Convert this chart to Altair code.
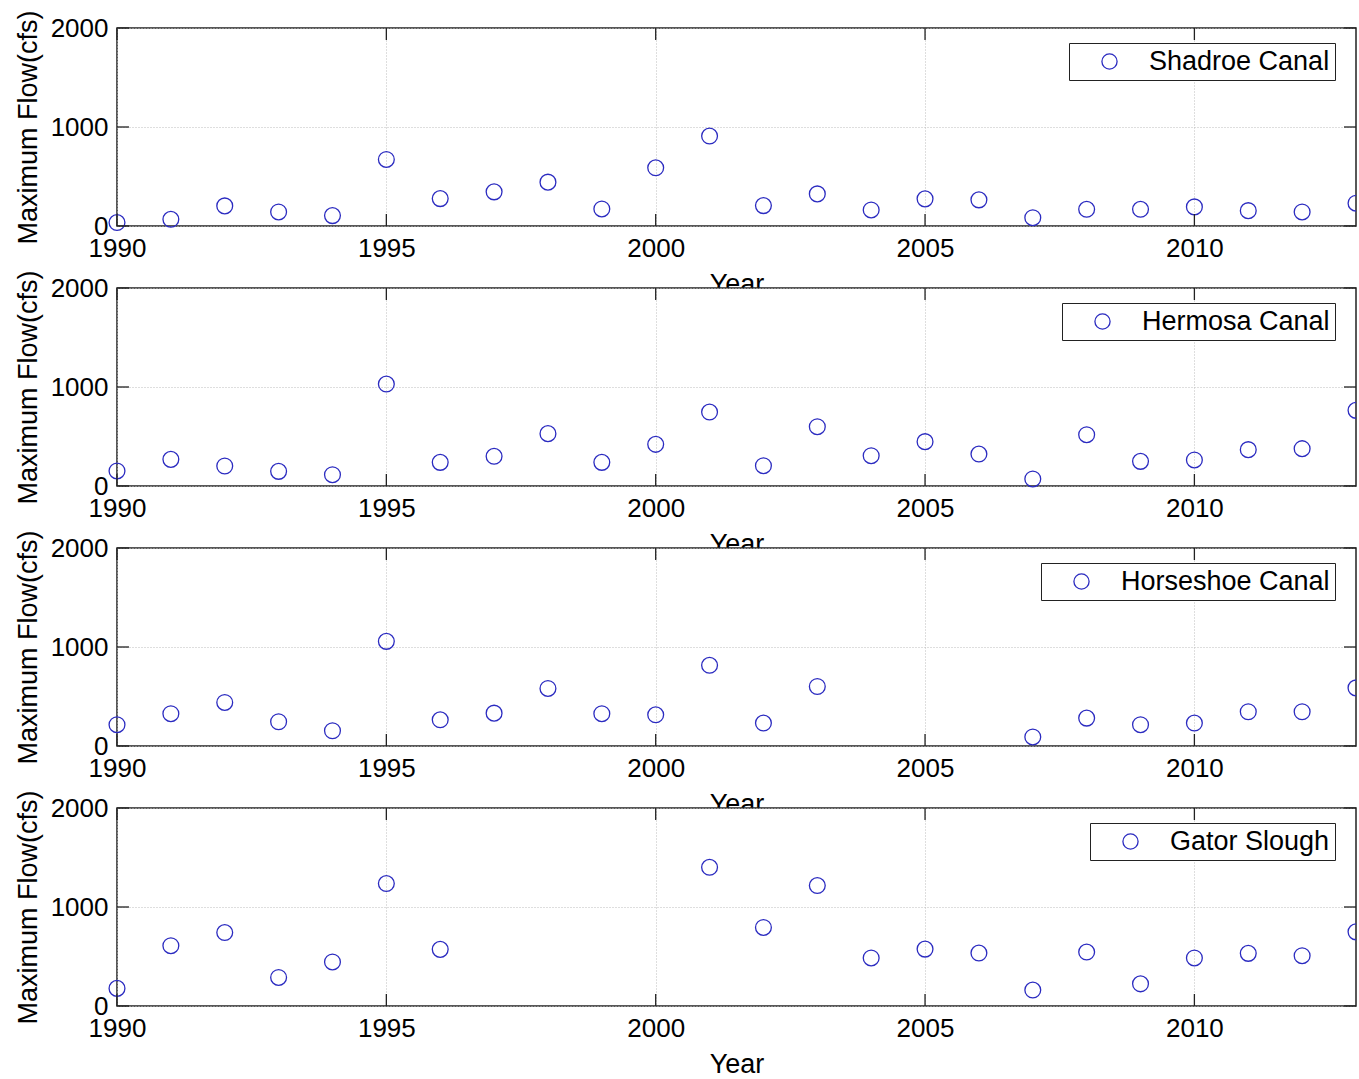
import altair as alt
import pandas as pd

# Annual maximum flow (cfs) at four sites, 1990-2013
years = list(range(1990, 2014))
shadroe = [35, 68, 203, 142, 105, 672, 277, 345, 443, 172, 588, 909,
           206, 324, 162, 274, 264, 84, 169, 169, 193, 155, 142, 230]
hermosa = [152, 269, 202, 148, 114, 1030, 239, 300, 529, 239, 421, 747,
           205, 599, 306, 448, 323, 71, 518, 249, 263, 367, 377, 764]
horseshoe = [215, 326, 440, 245, 154, 1057, 265, 332, 581, 326, 315, 815,
             232, 601, None, None, None, 91, 282, 215, 232, 346, 346, 587]
gator = [178, 609, 742, 288, 445, 1237, 572, None, None, None, None, 1401,
         793, 1217, 485, 575, 535, 161, 545, 224, 485, 532, 508, 749]

sites = ["Shadroe Canal", "Hermosa Canal", "Horseshoe Canal", "Gator Slough"]
series = [shadroe, hermosa, horseshoe, gator]

x_ticks = [1990, 1995, 2000, 2005, 2010]
y_ticks = [0, 1000, 2000]
x_domain = [1990, 2013]

W, H = 1239, 198
TICK = 12
BLUE = "#2b2bc0"
FONT = "Liberation Sans"
# left edge of each panel's legend box, in pixels from the plot's left side
LEGEND_X = [952, 945, 924, 973]
LEGEND_Y = 15


def panel(name, values, legend_x):
    df = pd.DataFrame({"Year": years, "Flow": values, "Site": name}).dropna()
    x_enc = alt.X(
        "Year:Q",
        scale=alt.Scale(domain=x_domain, nice=False, zero=False),
        axis=alt.Axis(values=x_ticks, format="d", title="Year",
                      labelFlush=False,
                      titleY=66, titleBaseline="alphabetic"),
    )
    y_enc = alt.Y(
        "Flow:Q",
        scale=alt.Scale(domain=[0, 2000], nice=False),
        axis=alt.Axis(values=y_ticks, format="d", title="Maximum Flow(cfs)",
                      labelFlush=False,
                      titleX=-81, titleY=H / 2, titleAngle=-90,
                      titleAlign="center", titleBaseline="alphabetic"),
    )
    color_enc = alt.Color(
        "Site:N",
        title="",
        scale=alt.Scale(domain=[name], range=[BLUE]),
        legend=alt.Legend(
            orient="none", legendX=legend_x, legendY=LEGEND_Y, padding=5,
            symbolOffset=22, labelOffset=26, labelLimit=500,
            fillColor="white", strokeColor="#222",
            symbolSize=230, symbolStrokeWidth=1.3, symbolType="circle",
            symbolFillColor="transparent",
            labelFont=FONT, labelFontSize=27, labelColor="black",
        ),
    )
    marker = dict(shape="circle", filled=False, size=250, strokeWidth=1.3, opacity=1)
    base = alt.Chart(df).encode(x=x_enc, y=y_enc, color=color_enc)
    # markers inside the year range, and the last year clipped at the right frame
    inner = base.transform_filter(f"datum.Year < {x_domain[1]}").mark_point(**marker)
    edge = base.transform_filter(f"datum.Year >= {x_domain[1]}").mark_point(clip=True, **marker)

    # inward tick marks on all four sides of the frame
    xt = pd.DataFrame({"Year": x_ticks})
    yt = pd.DataFrame({"Flow": y_ticks})
    tick_style = dict(color="#222", strokeWidth=1.3)
    bottom = alt.Chart(xt).mark_rule(**tick_style).encode(
        x=x_enc, y=alt.value(H), y2=alt.value(H - TICK))
    top = alt.Chart(xt).mark_rule(**tick_style).encode(
        x=x_enc, y=alt.value(0), y2=alt.value(TICK))
    left = alt.Chart(yt).mark_rule(**tick_style).encode(
        y=y_enc, x=alt.value(0), x2=alt.value(TICK))
    right = alt.Chart(yt).mark_rule(**tick_style).encode(
        y=y_enc, x=alt.value(W), x2=alt.value(W - TICK))

    return alt.layer(inner, edge, bottom, top, left, right).properties(width=W, height=H)


chart = alt.vconcat(
    *[panel(n, v, lx) for n, v, lx in zip(sites, series, LEGEND_X)],
    spacing=62, bounds="flush",
).resolve_scale(color="independent").properties(
    padding={"left": 13, "top": 9, "right": 0, "bottom": 0},
    background="white",
).configure_view(
    fill="white", stroke="#222", strokeWidth=1.5,
).configure_axis(
    domain=False, ticks=False, grid=True,
    gridColor="#bdbdbd", gridDash=[1, 2], gridWidth=1,
    labelFont=FONT, labelFontSize=26, labelColor="black", labelPadding=9,
    titleFont=FONT, titleFontSize=27, titleFontWeight="normal", titleColor="black",
).configure_axisY(
    labelPadding=9,
)

chart.save("out.html", embed_options={"renderer": "svg", "actions": False})
